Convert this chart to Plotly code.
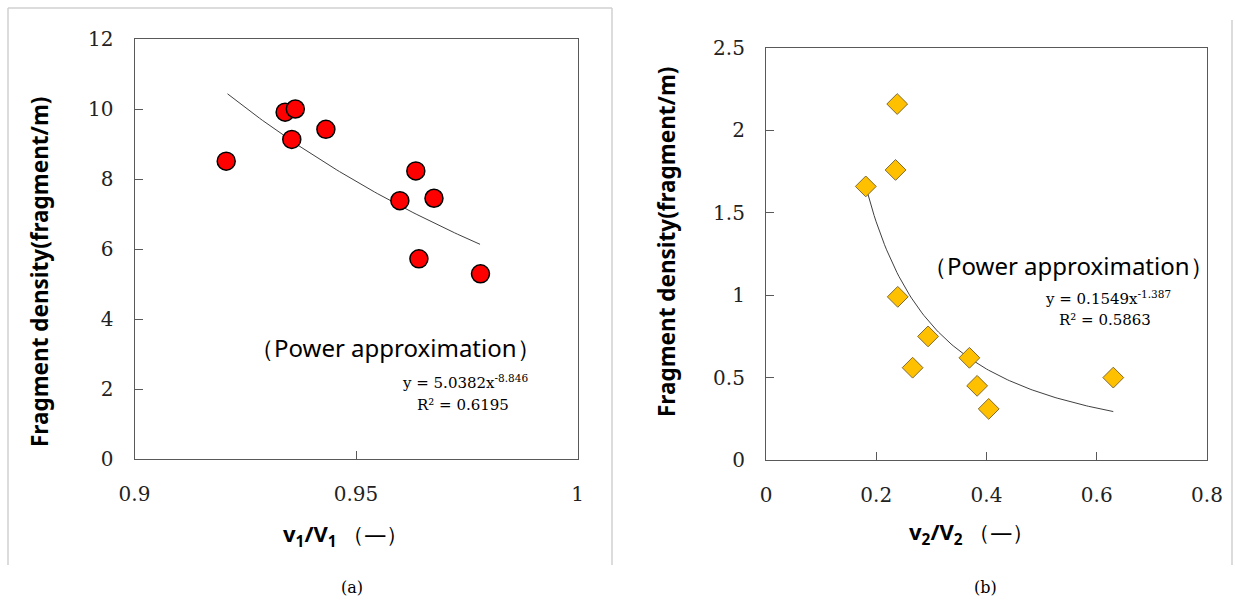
import numpy as np
import plotly.graph_objects as go

# ---- data (a) ----
v1_ratio = [0.9207, 0.9340, 0.9363, 0.9355, 0.9432, 0.9635, 0.9599, 0.9676, 0.9642, 0.9781]
density_a = [8.51, 9.91, 10.00, 9.13, 9.42, 8.23, 7.38, 7.45, 5.72, 5.29]
coef_a, exp_a = 5.0382, -8.846
fit_range_a = [0.921, 0.978]

# ---- data (b) ----
v2_ratio = [0.238, 0.235, 0.181, 0.239, 0.294, 0.266, 0.369, 0.383, 0.404, 0.630]
density_b = [2.16, 1.76, 1.66, 0.99, 0.75, 0.56, 0.62, 0.45, 0.31, 0.50]
coef_b, exp_b = 0.1549, -1.387
fit_range_b = [0.181, 0.630]

x_ticks_a = [0.9, 0.95, 1]
y_ticks_a = [0, 2, 4, 6, 8, 10, 12]
x_ticks_b = [0, 0.2, 0.4, 0.6, 0.8]
y_ticks_b = [0, 0.5, 1, 1.5, 2, 2.5]

W, H = 1235, 603
def px(x): return x / W
def py(y): return 1 - y / H

fig = go.Figure()

xa = np.linspace(fit_range_a[0], fit_range_a[1], 80)
fig.add_trace(go.Scatter(x=xa, y=coef_a * xa ** exp_a, mode="lines",
                         line=dict(color="#404040", width=1), xaxis="x", yaxis="y", hoverinfo="skip"))
fig.add_trace(go.Scatter(x=v1_ratio, y=density_a, mode="markers", xaxis="x", yaxis="y",
                         marker=dict(symbol="circle", size=18, color="#FF0000",
                                     line=dict(color="#000000", width=1.5))))

xb = np.linspace(fit_range_b[0], fit_range_b[1], 120)
fig.add_trace(go.Scatter(x=xb, y=coef_b * xb ** exp_b, mode="lines",
                         line=dict(color="#404040", width=1), xaxis="x2", yaxis="y2", hoverinfo="skip"))
fig.add_trace(go.Scatter(x=v2_ratio, y=density_b, mode="markers", xaxis="x2", yaxis="y2",
                         marker=dict(symbol="diamond", size=16, color="#FFC000",
                                     line=dict(color="#7F6A30", width=1))))

tickfont = dict(family="DejaVu Serif", size=20, color="#222222")
axis_common = dict(showline=True, linecolor="#595959", linewidth=1.2, mirror=True,
                   showgrid=False, zeroline=False, ticks="inside", ticklen=8,
                   tickcolor="#595959", tickfont=tickfont, automargin=False)

fig.update_layout(
    template="none",
    width=W, height=H, margin=dict(l=0, r=0, t=0, b=0, pad=0), autosize=False,
    paper_bgcolor="white", plot_bgcolor="white", showlegend=False,
    xaxis=dict(domain=[px(134.5), px(577.5)], range=[0.9, 1.0], tickvals=x_ticks_a,
               ticktext=["0.9", "0.95", "1"], anchor="y", ticklabelstandoff=17, **axis_common),
    yaxis=dict(domain=[py(459), py(39)], range=[0, 12], tickvals=y_ticks_a,
               anchor="x", ticklabelstandoff=16, **axis_common),
    xaxis2=dict(domain=[px(766), px(1207)], range=[0, 0.8], tickvals=x_ticks_b,
                ticktext=["0", "0.2", "0.4", "0.6", "0.8"], anchor="y2", ticklabelstandoff=17, **axis_common),
    yaxis2=dict(domain=[py(460), py(48)], range=[0, 2.5], tickvals=y_ticks_b,
                ticktext=["0", "0.5", "1", "1.5", "2", "2.5"], anchor="x2", ticklabelstandoff=16, **axis_common),
)

sans = "Noto Sans"
serif = "DejaVu Serif"
ann = []
def A(x, y, text, size, family, angle=0, color="#000000", xanchor="center"):
    ann.append(dict(x=px(x), y=py(y), xref="paper", yref="paper", text=text, showarrow=False,
                    font=dict(family=family, size=size, color=color), textangle=angle,
                    xanchor=xanchor, yanchor="middle"))

# axis titles
A(40, 272, "<b>Fragment density(fragment/m)</b>", 22.5, sans, angle=-90)
A(667, 242, "<b>Fragment density(fragment/m)</b>", 22.5, sans, angle=-90)
A(345, 535, "<b>v<sub>1</sub>/V<sub>1</sub></b> （—）", 22, sans)
A(971, 533, "<b>v<sub>2</sub>/V<sub>2</sub></b> （—）", 22, sans)
# fit annotations
A(395, 347, "（Power approximation）", 24, sans)
A(465, 382, "y = 5.0382x<sup>-8.846</sup>", 15, serif)
A(463, 405, "R² = 0.6195", 15, serif)
A(1068, 265, "（Power approximation）", 24, sans)
A(1108, 298, "y = 0.1549x<sup>-1.387</sup>", 15, serif)
A(1105, 320, "R² = 0.5863", 15, serif)
# captions
A(352, 587, "(a)", 16, serif)
A(985, 587, "(b)", 16, serif)
fig.update_layout(annotations=ann)

# panel frames
line = dict(color="#D0D0D0", width=1.5)
shapes = [
    dict(type="line", xref="paper", yref="paper", x0=px(8), x1=px(612), y0=py(8), y1=py(8), line=line),
    dict(type="line", xref="paper", yref="paper", x0=px(8), x1=px(8), y0=py(8), y1=py(565), line=line),
    dict(type="line", xref="paper", yref="paper", x0=px(612), x1=px(612), y0=py(8), y1=py(565), line=line),
    dict(type="line", xref="paper", yref="paper", x0=px(1232), x1=px(1232), y0=py(20), y1=py(565), line=line),
]
fig.update_layout(shapes=shapes)

fig.write_html("out.html", config={"displayModeBar": False},
               post_script="document.body.style.margin='0';document.body.style.overflow='hidden';")
